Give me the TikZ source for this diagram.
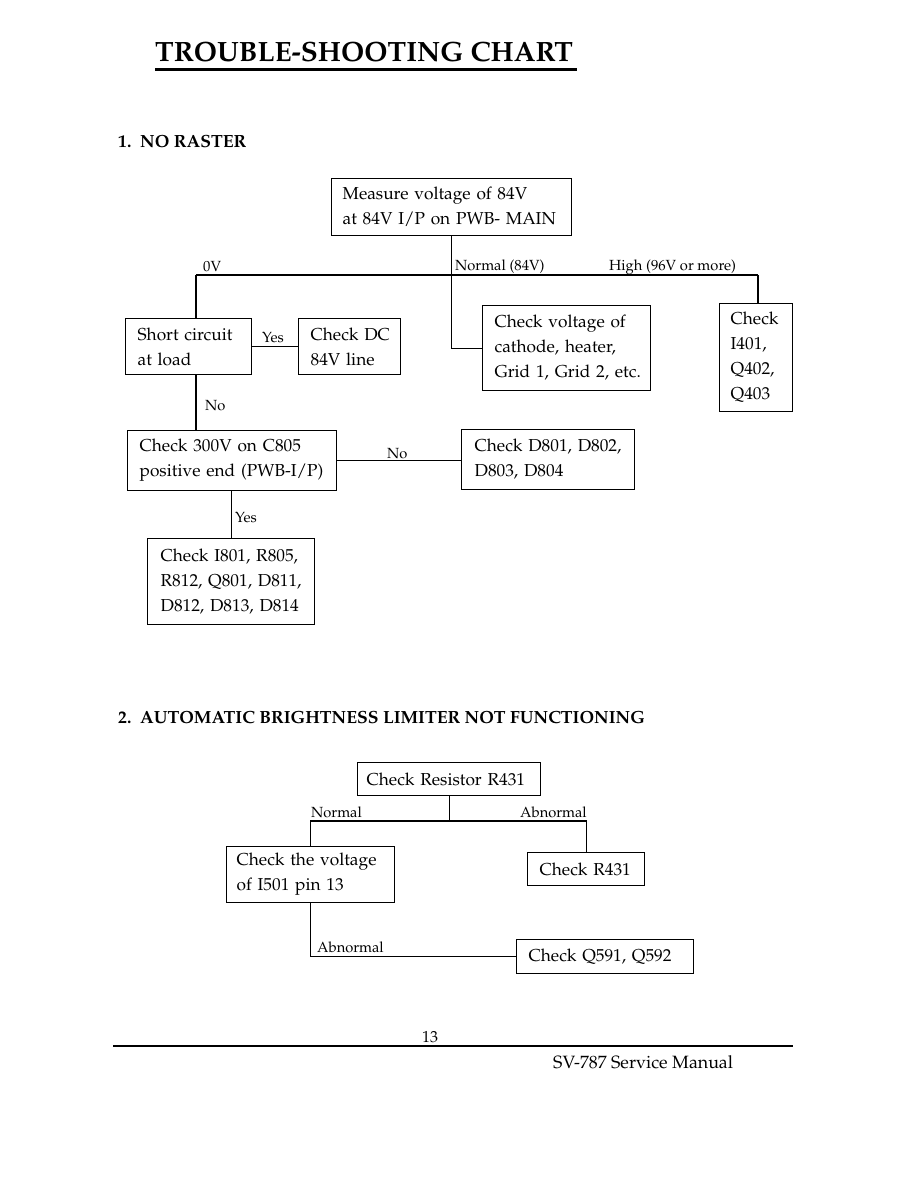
\documentclass[tikz,border=0pt]{standalone}
\usepackage[T1]{fontenc}
\usepackage{mathpazo}
\begin{document}
\begin{tikzpicture}[x=1pt,y=-1pt,
  box/.style={draw, line width=1.3pt, align=left, anchor=north west, inner ysep=0pt, font=\fontsize{17.3}{25}\selectfont},
  lab/.style={anchor=base west, inner sep=0pt, font=\fontsize{14.7}{16}\selectfont},
  head/.style={anchor=base west, inner sep=0pt, font=\bfseries\fontsize{17.6}{20}\selectfont},
  conn/.style={line width=1.2pt}]
\useasboundingbox (0,0) rectangle (918,1188);
% title
\node[anchor=base west, inner sep=0pt, font=\bfseries\fontsize{27.9}{30}\selectfont] (title) at (155,62) {TROUBLE-SHOOTING CHART};
\draw[line width=3pt] (155,70) -- (577,70);
\node[head] (h1) at (118,147) {1.\ \ NO RASTER};
% section 1 boxes
\node[box, minimum width=240pt, minimum height=57pt, inner xsep=11pt, text width=218pt] (A) at (331,178) {Measure~voltage~of~84V\\at~84V~I/P~on~PWB-~MAIN};
\node[box, minimum width=126pt, minimum height=56pt, inner xsep=12pt, text width=102pt] (S) at (125,318) {Short~circuit\\at~load};
\node[box, minimum width=102pt, minimum height=56pt, inner xsep=12pt, text width=78pt] (DC) at (298,318) {Check~DC\\84V~line};
\node[box, minimum width=168pt, minimum height=85pt, inner xsep=12pt, text width=144pt] (CV) at (482,305) {Check~voltage~of\\cathode,~heater,\\Grid~1,~Grid~2,~etc.};
\node[box, minimum width=73pt, minimum height=108pt, inner xsep=11pt, text width=51pt] (I) at (719,303) {Check\\I401,\\Q402,\\Q403};
\node[box, minimum width=209pt, minimum height=60pt, inner xsep=12pt, text width=185pt] (C) at (127,430) {Check~300V~on~C805\\positive~end~(PWB-I/P)};
\node[box, minimum width=173pt, minimum height=60pt, inner xsep=13pt, text width=147pt] (D) at (461,429) {Check~D801,~D802,\\D803,~D804};
\node[box, minimum width=167pt, minimum height=86pt, inner xsep=13pt, text width=141pt] (E) at (147,538) {Check~I801,~R805,\\R812,~Q801,~D811,\\D812,~D813,~D814};
% connectors section 1
\coordinate (hl) at (196,275);
\coordinate (hr) at (758,275);
\coordinate (sb) at (196,374);
\draw[conn] (A.south) |- (CV.west);
\draw[conn] (hl) -- (hr);
\draw[conn] (hl) -- (hl |- S.north);
\draw[conn] (hr) -- (hr |- I.north);
\draw[conn] (S.east) -- (DC.west);
\draw[conn] (sb) -- (sb |- C.north);
\draw[conn] (C.east) -- (C.east -| D.west);
\draw[conn] (E.north |- C.south) -- (E.north);
% labels section 1
\node[lab] (l0v) at (203,271) {0V};
\node[lab] (lnorm) at (455,270) {Normal (84V)};
\node[lab] (lhigh) at (609,270) {High (96V or more)};
\node[lab] (lyes1) at (262,342) {Yes};
\node[lab] (lno1) at (205,410) {No};
\node[lab] (lno2) at (387,458) {No};
\node[lab] (lyes2) at (235,522) {Yes};
% section 2
\node[head] (h2) at (118,723) {2.\ \ AUTOMATIC BRIGHTNESS LIMITER NOT FUNCTIONING};
\node[box, minimum width=183pt, minimum height=33pt, inner xsep=9pt, text width=165pt] (R) at (357,762) {Check~Resistor~R431};
\node[box, minimum width=168pt, minimum height=56pt, inner xsep=10pt, text width=148pt] (CT) at (226,846) {Check~the~voltage\\of~I501~pin~13};
\node[box, minimum width=117pt, minimum height=33pt, inner xsep=12pt, text width=93pt] (CR) at (527,852) {Check~R431};
\node[box, minimum width=177pt, minimum height=34pt, inner xsep=12pt, text width=153pt] (Q) at (516,939) {Check~Q591,~Q592};
\coordinate (j2) at (R.south |- 0,821);
\draw[conn] (R.south) -- (j2);
\draw[conn] (CT.north) |- (j2) -| (CR.north);
\draw[conn] (CT.south) |- (Q.west);
\node[lab] (ln2) at (311,817) {Normal};
\node[lab] (lab2) at (520,817) {Abnormal};
\node[lab] (lab3) at (317,952) {Abnormal};
% footer
\node[anchor=base, inner sep=0pt, font=\fontsize{16}{18}\selectfont] (pg) at (430,1042) {13};
\draw[line width=1.5pt] (113,1046) -- (793,1046);
\node[anchor=base west, inner sep=0pt, font=\fontsize{17.8}{20}\selectfont] (sv) at (553,1068) {SV-787 Service Manual};
\end{tikzpicture}
\end{document}
